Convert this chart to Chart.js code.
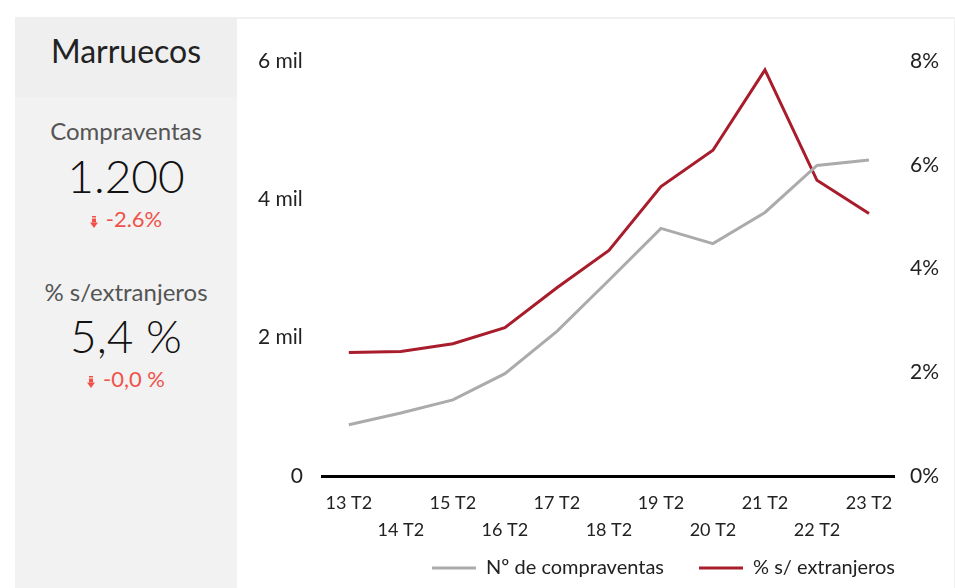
<!DOCTYPE html>
<meta charset="utf-8">
<title>Marruecos</title>
<style>
  body { margin: 0; background: #fff; font-family: Lato, sans-serif; }
  #panel { position: absolute; left: 15px; top: 17px; width: 222px; height: 571px; background: #f2f2f2; }
  #panel div { position: absolute; left: 0; width: 222px; text-align: center; white-space: nowrap; }
  #title { top: 0; height: 80px; background: #efefef; }
  #title span { position: absolute; left: 0; width: 222px; top: 13.5px; font-size: 32px; line-height: 40px; color: #222; }
  .lbl { font-size: 24px; line-height: 30px; color: #555; }
  .big { font-size: 46px; line-height: 56px; color: #111; font-weight: 300; }
  .chg { font-size: 22px; line-height: 26px; color: #f0524a; }
  .chg svg { vertical-align: -1px; margin-right: 8px; }
  #box { position: absolute; left: 237px; top: 17px; width: 717px; height: 571px; border-top: 2px solid #f0f0f0; border-right: 1px solid #f2f2f2; }
  #wrap { position: absolute; left: 1px; top: -1px; width: 716px; height: 570px; }
</style>
<div id="panel">
  <div id="title"><span>Marruecos</span></div>
  <div class="lbl" style="top:98.5px">Compraventas</div>
  <div class="big" style="top:130.5px">1.200</div>
  <div class="chg" style="top:188.5px"><svg width="8" height="12" viewBox="0 0 8 12"><rect x="2" y="0" width="4" height="1.5" fill="#f0524a"/><rect x="2" y="2.5" width="4" height="4" fill="#f0524a"/><path d="M0 6.5 H8 L4 12 Z" fill="#f0524a"/></svg>-2.6%</div>
  <div class="lbl" style="top:260px">% s/extranjeros</div>
  <div class="big" style="top:291px">5,4 %</div>
  <div class="chg" style="top:348.5px"><svg width="8" height="12" viewBox="0 0 8 12"><rect x="2" y="0" width="4" height="1.5" fill="#f0524a"/><rect x="2" y="2.5" width="4" height="4" fill="#f0524a"/><path d="M0 6.5 H8 L4 12 Z" fill="#f0524a"/></svg>-0,0 %</div>
</div>
<div id="box"><div id="wrap"><canvas id="chart"></canvas></div></div>
<script src="https://cdn.jsdelivr.net/npm/chart.js@4"></script>
<script>
  const periods = ["13 T2", "14 T2", "15 T2", "16 T2", "17 T2", "18 T2", "19 T2", "20 T2", "21 T2", "22 T2", "23 T2"]
  const sales = [740, 910, 1100, 1480, 2090, 2830, 3580, 3360, 3810, 4490, 4570]
  const foreignPct = [2.38, 2.40, 2.55, 2.86, 3.63, 4.35, 5.58, 6.28, 7.83, 5.70, 5.06]

  const tickFont = { family: "Lato", size: 21 }
  const xFont = { family: "Lato", size: 18, lineHeight: 1.5 }
  const legendFont = { family: "Lato", size: 20 }

  // legend is fitted with no padding so the plot gets the room,
  // then drawn with a wider gap and pushed to end at the plot's right edge
  const fitPad = 0
  const drawPad = 35
  const legendShift = {
    id: "legendShift",
    afterLayout(chart) {
      const l = chart.legend
      l.options.labels.padding = drawPad
      l.top -= drawPad - fitPad
      const w = l.legendHitBoxes.reduce((s, b) => s + b.width, 0) + drawPad
      l.left = chart.chartArea.right - w - drawPad
    },
  }

  new Chart(document.getElementById("chart"), {
    type: "line",
    data: {
      labels: periods,
      datasets: [
        {
          label: "Nº de compraventas",
          data: sales,
          yAxisID: "y",
          borderColor: "#ababab",
          backgroundColor: "#ababab",
          borderWidth: 3,
          pointRadius: 0,
        },
        {
          label: "% s/ extranjeros",
          data: foreignPct,
          yAxisID: "y1",
          borderColor: "#a81c2c",
          backgroundColor: "#a81c2c",
          borderWidth: 3,
          pointRadius: 0,
        },
      ],
    },
    options: {
      responsive: true,
      maintainAspectRatio: false,
      animation: false,
      layout: { padding: { left: 0, top: 43, right: 0, bottom: 0 } },
      scales: {
        x: {
          offset: true,
          grid: { display: false, drawTicks: false },
          border: { color: "#000", width: 3 },
          ticks: {
            font: xFont,
            color: "#222",
            padding: 14,
            autoSkip: false,
            maxRotation: 0,
            callback: (v, i) => (i % 2 ? ["", periods[i]] : periods[i]),
          },
        },
        y: {
          position: "left",
          min: 0,
          max: 6000,
          grid: { display: false, drawTicks: false },
          border: { display: false },
          ticks: {
            stepSize: 2000,
            font: tickFont,
            color: "#222",
            padding: 20,
            callback: v => (v == 0 ? "0" : v / 1000 + " mil"),
          },
        },
        y1: {
          position: "right",
          min: 0,
          max: 8,
          grid: { display: false, drawTicks: false },
          border: { display: false },
          ticks: {
            stepSize: 2,
            font: tickFont,
            color: "#222",
            padding: 15,
            callback: v => v + "%",
          },
        },
      },
      plugins: {
        tooltip: { enabled: false },
        legend: {
          position: "bottom",
          align: "start",
          labels: {
            font: legendFont,
            color: "#222",
            usePointStyle: true,
            pointStyle: "line",
            pointStyleWidth: 44,
            padding: fitPad,
          },
        },
      },
    },
    plugins: [legendShift],
  })
</script>
